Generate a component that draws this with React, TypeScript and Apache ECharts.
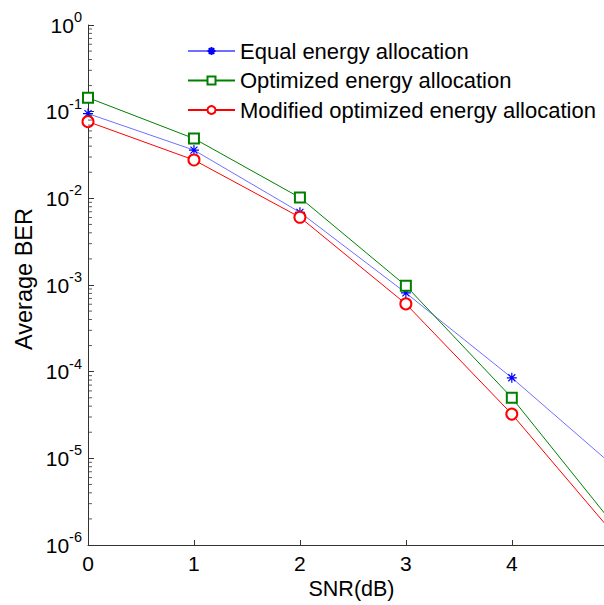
import React, { useEffect, useRef } from "react";
import * as echarts from "echarts";

const snr = [0, 1, 2, 3, 4, 5];
const equalBER = [0.095, 0.036, 0.0069, 8.1e-4, 8.5e-5, 7.4e-6];
const optimizedBER = [0.145, 0.049, 0.0102, 9.8e-4, 5.0e-5, 1.5e-6];
const modifiedBER = [0.0767, 0.0277, 0.00605, 6.05e-4, 3.24e-5, 1.18e-6];
const seriesNames = [
  "Equal energy allocation",
  "Optimized energy allocation",
  "Modified optimized energy allocation",
];
const xTitle = "SNR(dB)";
const yTitle = "Average BER";
const xTicks = [0, 1, 2, 3, 4];
const decades = [-6, -5, -4, -3, -2, -1];
const minorMultipliers = [2, 3, 4, 5, 6, 7, 8, 9];

const FONT = "'Liberation Sans', Arial, sans-serif";
const STAR = "path://M0,-5L0,5M-5,0L5,0M-3.5,-3.5L3.5,3.5M-3.5,3.5L3.5,-3.5";

export default function App() {
  const ref = useRef<HTMLDivElement>(null);
  useEffect(() => {
    if (!ref.current) return;
    const chart = echarts.init(ref.current, undefined, { renderer: "svg" });
    const pair = (vals: number[]) => snr.map((x, i) => [x, vals[i]]);
    const minorData: number[][] = [];
    decades.forEach((d) =>
      minorMultipliers.forEach((m) => minorData.push([0, m * Math.pow(10, d)]))
    );
    chart.setOption({
      animation: false,
      backgroundColor: "#fff",
      grid: { left: 88, right: 0, top: 25, bottom: 60 },
      legend: {
        data: seriesNames,
        orient: "vertical",
        left: 182,
        top: 35,
        padding: 5,
        itemWidth: 47,
        itemHeight: 10,
        itemGap: 7.5,
        textStyle: { fontSize: 22, fontFamily: FONT, color: "#000" },
      },
      graphic: [
        {
          type: "text",
          x: 351.5,
          y: 589,
          style: {
            text: xTitle,
            fontSize: 21.5,
            fontFamily: FONT,
            fill: "#000",
            align: "center",
            verticalAlign: "middle",
          },
        },
        {
          type: "text",
          x: 24,
          y: 279,
          rotation: Math.PI / 2,
          style: {
            text: yTitle,
            fontSize: 23.5,
            fontFamily: FONT,
            fill: "#000",
            align: "center",
            verticalAlign: "middle",
          },
        },
      ],
      xAxis: {
        type: "value",
        min: 0,
        max: 4.87,
        interval: 1,
        axisLine: { lineStyle: { color: "#333", width: 1 } },
        axisTick: { inside: true, length: 5, lineStyle: { color: "#333" } },
        axisLabel: {
          fontSize: 21,
          fontFamily: FONT,
          color: "#000",
          margin: 8,
          showMaxLabel: false,
          formatter: (v: number) => (xTicks.includes(v) ? String(v) : ""),
        },
        splitLine: { show: false },
      },
      yAxis: {
        type: "log",
        logBase: 10,
        min: 1e-6,
        max: 1,
        splitNumber: 6,
        axisLine: { show: true, lineStyle: { color: "#333", width: 1 } },
        axisTick: { inside: true, length: 6, lineStyle: { color: "#333" } },
        axisLabel: {
          margin: 6,
          formatter: (v: number) => `{b|10}{s|${Math.round(Math.log10(v))}}`,
          rich: {
            b: {
              fontSize: 21,
              fontFamily: FONT,
              color: "#000",
              verticalAlign: "bottom",
              padding: [0, 0, 5, 0],
            },
            s: {
              fontSize: 14.5,
              fontFamily: FONT,
              color: "#000",
              verticalAlign: "top",
              padding: [0, 0, 16, 0],
            },
          },
        },
        splitLine: { show: false },
      },
      series: [
        {
          name: seriesNames[0],
          type: "line",
          data: pair(equalBER),
          symbol: STAR,
          symbolSize: 10,
          lineStyle: { color: "#6f6fff", width: 1 },
          itemStyle: { color: "#0000ff", borderColor: "#0000ff", borderWidth: 1.2 },
        },
        {
          name: seriesNames[1],
          type: "line",
          data: pair(optimizedBER),
          symbol: "emptyRect",
          symbolSize: 10,
          lineStyle: { color: "#008000", width: 1 },
          itemStyle: { color: "#008000", borderColor: "#008000", borderWidth: 1 },
        },
        {
          name: seriesNames[2],
          type: "line",
          data: pair(modifiedBER),
          symbol: "emptyCircle",
          symbolSize: 11,
          lineStyle: { color: "#ff0000", width: 1 },
          itemStyle: { color: "#ff0000", borderColor: "#ff0000", borderWidth: 1 },
        },
        {
          name: "minorTicks",
          type: "scatter",
          data: minorData,
          silent: true,
          clip: false,
          z: 5,
          symbol: "rect",
          symbolSize: [4, 1],
          symbolOffset: [2, 0],
          itemStyle: { color: "#333" },
        },
      ],
    });
    return () => chart.dispose();
  }, []);
  return (
    <div
      ref={ref}
      style={{ position: "fixed", left: 0, top: 0, width: 604, height: 605 }}
    />
  );
}
